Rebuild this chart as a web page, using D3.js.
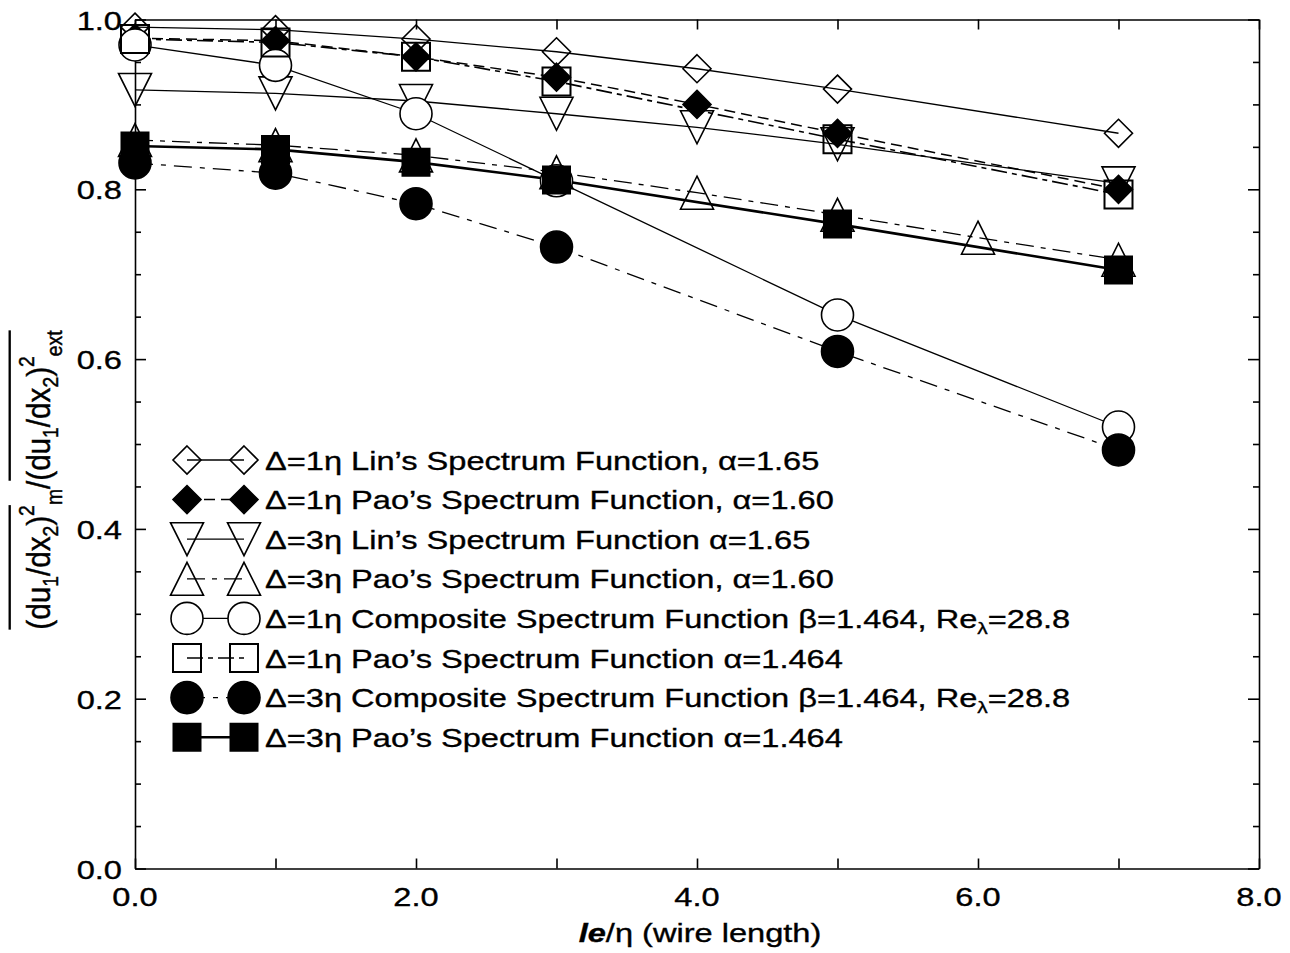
<!DOCTYPE html>
<html><head><meta charset="utf-8">
<script src="https://cdn.jsdelivr.net/npm/d3@7"></script>
<style>
body{margin:0;background:#fff}
svg{display:block}
text{font-family:"Liberation Sans",Arial,Helvetica,sans-serif;fill:#000;stroke:#000;stroke-width:0.35px}
</style>
</head><body>
<svg id="c" width="1290" height="953"></svg>
<script>
// ---------- data ----------
const xTickValues = [0,1,2,3,4,5,6,7,8];
const xLabelValues = [0,2,4,6,8];
const xTickLabels = ["0.0","2.0","4.0","6.0","8.0"];
const yTickValues = [0,0.2,0.4,0.6,0.8,1.0];
const yTickLabels = ["0.0","0.2","0.4","0.6","0.8","1.0"];
const yMinorValues = [0.05,0.1,0.15,0.25,0.3,0.35,0.45,0.5,0.55,0.65,0.7,0.75,0.85,0.9,0.95];

const x_lin1  = [0,1,2,3,4,5,7];
const y_lin1  = [0.991,0.988,0.977,0.962,0.942,0.918,0.866];
const x_pao1  = [0,1,2,3,4,5,7];
const y_pao1  = [0.978,0.975,0.956,0.932,0.900,0.866,0.800];
const x_lin3  = [0,1,2,3,4,5,7];
const y_lin3  = [0.917,0.913,0.904,0.889,0.873,0.853,0.807];
const x_pao3  = [0,1,2,3,4,5,6,7];
const y_pao3  = [0.858,0.852,0.840,0.820,0.796,0.770,0.743,0.717];
const x_comp1 = [0,1,2,3,5,7];
const y_comp1 = [0.970,0.946,0.889,0.810,0.652,0.520];
const x_pao1b = [0,1,2,3,5,7];
const y_pao1b = [0.977,0.973,0.956,0.927,0.859,0.794];
const x_comp3 = [0,1,2,3,5,7];
const y_comp3 = [0.831,0.819,0.783,0.732,0.609,0.493];
const x_pao3b = [0,1,2,3,5,7];
const y_pao3b = [0.851,0.847,0.832,0.811,0.759,0.705];

const legendLabels = [
  ["\u0394=1\u03b7 Lin\u2019s Spectrum Function, \u03b1=1.65"],
  ["\u0394=1\u03b7 Pao\u2019s Spectrum Function, \u03b1=1.60"],
  ["\u0394=3\u03b7 Lin\u2019s Spectrum Function \u03b1=1.65"],
  ["\u0394=3\u03b7 Pao\u2019s Spectrum Function, \u03b1=1.60"],
  ["\u0394=1\u03b7 Composite Spectrum Function \u03b2=1.464, Re","\u03bb","=28.8"],
  ["\u0394=1\u03b7 Pao\u2019s Spectrum Function \u03b1=1.464"],
  ["\u0394=3\u03b7 Composite Spectrum Function \u03b2=1.464, Re","\u03bb","=28.8"],
  ["\u0394=3\u03b7 Pao\u2019s Spectrum Function \u03b1=1.464"]
];

// ---------- layout / style ----------
const svg = d3.select("#c");
const x = d3.scaleLinear().domain([0,8]).range([135,1259]);
const y = d3.scaleLinear().domain([0,1]).range([868.5,19.5]);
const FS = 26.5, SX = 1.23;

function stext(g, px, py, str, anchor){
  return g.append("text")
    .attr("transform", `translate(${px},${py}) scale(${SX},1)`)
    .attr("text-anchor", anchor)
    .attr("font-size", FS)
    .text(str);
}

const series = [
  {xs:x_lin1,  ys:y_lin1,  shape:"diamond", fill:"none",  dash:null,           w:1.3},
  {xs:x_pao1,  ys:y_pao1,  shape:"diamond", fill:"#000",  dash:"11,6",         w:1.5},
  {xs:x_lin3,  ys:y_lin3,  shape:"tdown",   fill:"none",  dash:null,           w:1.3},
  {xs:x_pao3,  ys:y_pao3,  shape:"tup",     fill:"none",  dash:"18,7,5,7",     w:1.3},
  {xs:x_comp1, ys:y_comp1, shape:"circle",  fill:"#fff",  dash:null,           w:1.3},
  {xs:x_pao1b, ys:y_pao1b, shape:"square",  fill:"none",  dash:"16,5,5,5",     w:1.6},
  {xs:x_comp3, ys:y_comp3, shape:"circle",  fill:"#000",  dash:"18,8,5,8",     w:1.3},
  {xs:x_pao3b, ys:y_pao3b, shape:"square",  fill:"#000",  dash:null,           w:2.6}
];

function markerPath(shape, filled){
  switch(shape){
    case "diamond": return "M0,-14L14,0L0,14L-14,0Z";
    case "tup": return "M0,-16.5L16.5,16.5L-16.5,16.5Z";
    case "tdown": return "M-16.5,-16.5L16.5,-16.5L0,16.5Z";
    case "square": return filled ? "M-13.5,-13.5H13.5V13.5H-13.5Z" : "M-14,-14H14V14H-14Z";
    case "circle": return "M16,0A16,16 0 1,1 -16,0A16,16 0 1,1 16,0Z";
  }
}
function drawMarker(g, s, px, py){
  const filled = s.fill === "#000";
  g.append("path")
    .attr("d", markerPath(s.shape, filled))
    .attr("transform", `translate(${px},${py})`)
    .attr("fill", s.fill)
    .attr("stroke", "#000")
    .attr("stroke-width", s.shape==="square" ? 2 : 1.6);
}

// ---------- axes ----------
const axG = svg.append("g");
function styleAxis(sel){
  sel.selectAll("path,line").attr("stroke","#000").attr("stroke-width",1.6);
  sel.selectAll("text").remove();
}
axG.append("g").attr("transform",`translate(0,${y(0)})`)
  .call(d3.axisBottom(x).tickValues(xTickValues).tickSize(-10).tickSizeOuter(0).tickFormat(""))
  .call(styleAxis);
axG.append("g").attr("transform",`translate(0,${y(1)})`)
  .call(d3.axisTop(x).tickValues(xTickValues).tickSize(-10).tickSizeOuter(0).tickFormat(""))
  .call(styleAxis);
axG.append("g").attr("transform",`translate(${x(0)},0)`)
  .call(d3.axisLeft(y).tickValues(yTickValues).tickSize(-11).tickSizeOuter(0).tickFormat(""))
  .call(styleAxis);
axG.append("g").attr("transform",`translate(${x(0)},0)`)
  .call(d3.axisLeft(y).tickValues(yMinorValues).tickSize(-6).tickSizeOuter(0).tickFormat(""))
  .call(g=>g.select(".domain").remove()).call(styleAxis);
axG.append("g").attr("transform",`translate(${x(8)},0)`)
  .call(d3.axisRight(y).tickValues(yTickValues).tickSize(-11).tickSizeOuter(0).tickFormat(""))
  .call(styleAxis);
axG.append("g").attr("transform",`translate(${x(8)},0)`)
  .call(d3.axisRight(y).tickValues(yMinorValues).tickSize(-6).tickSizeOuter(0).tickFormat(""))
  .call(g=>g.select(".domain").remove()).call(styleAxis);

// tick labels
const tl = svg.append("g");
xLabelValues.forEach((v,i)=> stext(tl, x(v), 906, xTickLabels[i], "middle"));
yTickValues.forEach((v,i)=> stext(tl, 122, y(v)+10, yTickLabels[i], "end"));

// ---------- lines ----------
const line = d3.line().x(d=>x(d[0])).y(d=>y(d[1]));
const linesG = svg.append("g");
series.forEach(s=>{
  const pts = s.xs.map((v,i)=>[v, s.ys[i]]);
  linesG.append("path").attr("d", line(pts))
    .attr("fill","none").attr("stroke","#000")
    .attr("stroke-width", s.w)
    .attr("stroke-dasharray", s.dash);
});
// ---------- markers ----------
const mG = svg.append("g");
series.forEach(s=>{
  s.xs.forEach((v,i)=> drawMarker(mG, s, x(v), y(s.ys[i])));
});

// ---------- legend ----------
const lg = svg.append("g");
legendLabels.forEach((parts,i)=>{
  const cy = 460 + i*39.6;
  const s = series[i];
  lg.append("line").attr("x1",187).attr("x2",244).attr("y1",cy).attr("y2",cy)
    .attr("stroke","#000").attr("stroke-width", s.w).attr("stroke-dasharray", s.dash);
  drawMarker(lg, s, 187, cy);
  drawMarker(lg, s, 244, cy);
  const t = lg.append("text")
    .attr("transform", `translate(265,${cy+9.5}) scale(${SX},1)`)
    .attr("font-size", FS);
  t.append("tspan").text(parts[0]);
  if(parts.length>1){
    t.append("tspan").attr("dy",6).attr("font-size",17).text(parts[1]);
    t.append("tspan").attr("dy",-6).text(parts[2]);
  }
});

// ---------- axis titles ----------
const xt = svg.append("text")
  .attr("transform", `translate(700,942) scale(${SX},1)`)
  .attr("text-anchor","middle").attr("font-size",FS);
xt.append("tspan").attr("font-weight","bold").attr("font-style","italic").text("le");
xt.append("tspan").text("/\u03b7 (wire length)");

const yl = svg.append("g").attr("transform","translate(50,480) rotate(-90) scale(1.14,1.3)");
const yt = yl.append("text").attr("text-anchor","middle").attr("font-size",26);
const yParts = [["(du",0],["1",6],["/dx",0],["2",6],[")",0],["2",-12],["m",9],["/(du",0],["1",6],["/dx",0],["2",6],[")",0],["2",-12],["ext",9]];
let cur = 0;
yParts.forEach(([str,shift])=>{
  const ts = yt.append("tspan").attr("dy", shift-cur).text(str);
  if(shift!==0) ts.attr("font-size",17);
  cur = shift;
});
const node = yt.node();
function ov(a,b){
  const x1 = node.getStartPositionOfChar(a).x;
  const x2 = node.getEndPositionOfChar(b).x;
  yl.append("line").attr("x1",x1).attr("x2",x2).attr("y1",-31).attr("y2",-31)
    .attr("stroke","#000").attr("stroke-width",1.8);
}
ov(0,9);
ov(12,24);
</script>
</body></html>
